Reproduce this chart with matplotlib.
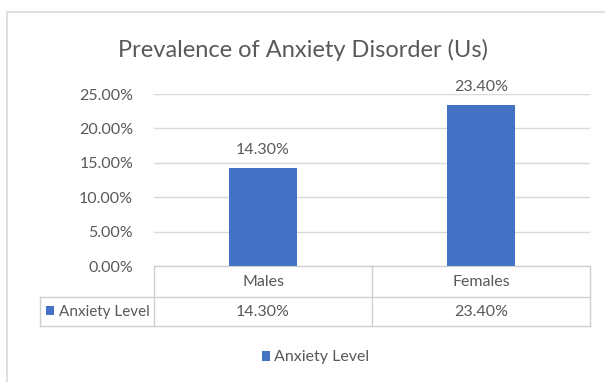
import matplotlib
matplotlib.use("Agg")
import matplotlib.pyplot as plt
from matplotlib.patches import Rectangle
from matplotlib.transforms import blended_transform_factory

categories = ["Males", "Females"]
values = [0.143, 0.234]
series_name = "Anxiety Level"
title = "Prevalence of Anxiety Disorder (Us)"
yticks = [0.0, 0.05, 0.10, 0.15, 0.20, 0.25]

plt.rcParams['font.family'] = ['Lato', 'DejaVu Sans']
W, H = 605, 382
fig = plt.figure(figsize=(W / 100, H / 100), dpi=100)
fig.patch.set_facecolor("white")

TXT = "#595959"
GRID = "#D9D9D9"
BAR = "#4472C4"

def px_rect(x0, y0, w, h, **kw):
    fig.patches.append(Rectangle((x0 / W, 1 - (y0 + h) / H), w / W, h / H,
                                 transform=fig.transFigure, **kw))

# chart frame
fig.patches.append(Rectangle((7 / W, -0.1), 1.2, (H - 12) / H + 0.1, transform=fig.transFigure,
                             fill=False, edgecolor="#D9D9D9", linewidth=1.2))

L, R, T, B = 154, 590, 94, 266
ax = fig.add_axes([L / W, 1 - B / H, (R - L) / W, (B - T) / H])
x = list(range(len(categories)))
ax.bar(x, values, width=0.31, color=BAR, zorder=3)
ax.set_xlim(-0.5, len(categories) - 0.5)
ax.set_ylim(0, 0.25)
ax.set_yticks(yticks)
ax.set_yticklabels([f"{v*100:.2f}%" for v in yticks], color=TXT, fontsize=11.5)
ax.tick_params(axis='y', length=0, pad=15)
ax.set_xticks([])
for s in ax.spines.values():
    s.set_visible(False)
ax.grid(axis='y', color=GRID, linewidth=1, zorder=0)
ax.set_axisbelow(True)

for xi, v in zip(x, values):
    ax.annotate(f"{v*100:.2f}%", (xi, v), xytext=(0, 8), textcoords="offset points",
                ha="center", va="bottom", fontsize=11.5, color=TXT)

fig.text(0.5, 1 - 50 / H, title, ha="center", va="center", fontsize=17, color=TXT)

# data table
h = B - T
tr = blended_transform_factory(ax.transData, ax.transAxes)
r1 = -(297 - B) / h
r2 = -(326 - B) / h
lab_left = -0.5 - (L - 40) / ((R - L) / len(categories))
lc = "#D0D0D0"
kw = dict(color=lc, linewidth=1, clip_on=False, transform=tr)
ax.plot([-0.5, len(categories) - 0.5], [0, 0], **kw)
ax.plot([lab_left, len(categories) - 0.5], [r1, r1], **kw)
ax.plot([lab_left, len(categories) - 0.5], [r2, r2], **kw)
for bx in [k - 0.5 for k in range(len(categories) + 1)]:
    ax.plot([bx, bx], [0, r2], **kw)
ax.plot([lab_left, lab_left], [r1, r2], **kw)
for xi, c, v in zip(x, categories, values):
    ax.text(xi, r1 / 2, c, transform=tr, ha="center", va="center", fontsize=11.5, color=TXT)
    ax.text(xi, (r1 + r2) / 2, f"{v*100:.2f}%", transform=tr, ha="center", va="center",
            fontsize=11.5, color=TXT)
# row label with key
px_rect(46, 306, 8, 9, color=BAR, linewidth=0)
fig.text(59 / W, 1 - 312 / H, series_name, ha="left", va="center", fontsize=11, color=TXT)

# legend
px_rect(262, 351, 8, 10, color=BAR, linewidth=0)
fig.text(274 / W, 1 - 357 / H, series_name, ha="left", va="center", fontsize=11.5, color=TXT)

fig.savefig("out.png", dpi=100, facecolor="white")
